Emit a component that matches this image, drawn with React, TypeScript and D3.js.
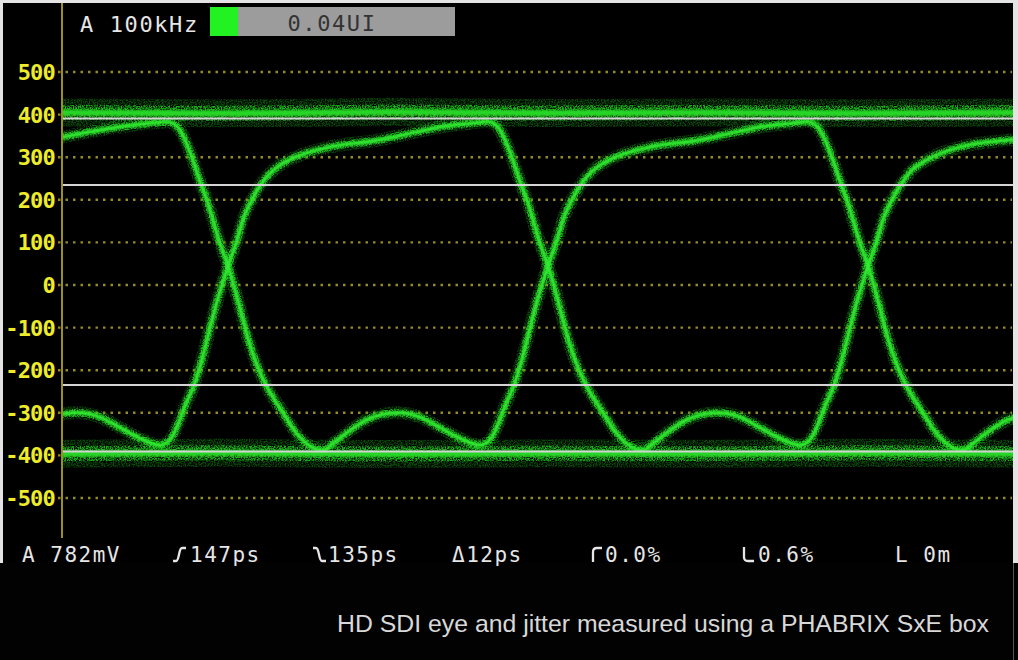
import { useEffect, useRef } from "react";
import * as d3 from "d3";

const W = 1018;
const H = 660;

// y axis in mV
const yTicks = [500, 400, 300, 200, 100, 0, -100, -200, -300, -400, -500];
// white reference levels (amplitude 782 mV -> +/-391, plus the 60% marks)
const levelLines = [391, 235, -235, -391];

const headerChannel = "A 100kHz";
const jitterValue = "0.04UI";
const readouts = ["A 782mV", "147ps", "135ps", "Δ12ps", "0.0%", "0.6%", "L 0m"];
const caption = "HD SDI eye and jitter measured using a PHABRIX SxE box";

type Pt = [number, number]; // [time in UI, level in mV]

// steady "1" and "0" levels
const topBand: Pt[] = [
  [-0.02, 405], [0.5, 403], [1, 406], [1.5, 404], [2, 405], [2.5, 403], [2.98, 405],
];
const bottomBand: Pt[] = [
  [-0.02, -396], [0.5, -394], [1, -397], [1.5, -395], [2, -396], [2.5, -394], [2.98, -396],
];

// trace starting high on the left
const traceA: Pt[] = [
  [-0.02, 347], [0.05, 357], [0.125, 367], [0.2, 375], [0.27, 381], [0.31, 383],
  [0.344, 370], [0.366, 340], [0.387, 300], [0.416, 236], [0.434, 200], [0.472, 105],
  [0.5, 45], [0.547, -82], [0.553, -100], [0.597, -200], [0.619, -235], [0.672, -300],
  [0.716, -350], [0.75, -375], [0.797, -388], [0.828, -372], [0.875, -345], [0.938, -315],
  [1.028, -300], [1.1, -310], [1.163, -335], [1.225, -360], [1.288, -376], [1.322, -360],
  [1.345, -325], [1.365, -285], [1.394, -235], [1.409, -200], [1.444, -100], [1.45, -82],
  [1.5, 45], [1.528, 105], [1.55, 160], [1.575, 200], [1.603, 236], [1.635, 265],
  [1.67, 285], [1.71, 300], [1.813, 323], [1.969, 340], [2.094, 360], [2.172, 372],
  [2.266, 380], [2.31, 384], [2.344, 370], [2.366, 340], [2.387, 300], [2.416, 236],
  [2.434, 200], [2.472, 105], [2.5, 45], [2.547, -82], [2.553, -100], [2.597, -200],
  [2.619, -235], [2.672, -300], [2.716, -350], [2.75, -375], [2.797, -388], [2.828, -372],
  [2.875, -345], [2.938, -316], [2.98, -308],
];

// trace starting low on the left
const traceB: Pt[] = [
  [-0.02, -303], [0.028, -300], [0.1, -310], [0.163, -335], [0.225, -360], [0.288, -376],
  [0.322, -360], [0.345, -325], [0.365, -285], [0.394, -235], [0.409, -200], [0.444, -100],
  [0.45, -82], [0.5, 45], [0.528, 105], [0.55, 160], [0.575, 200], [0.603, 236],
  [0.635, 265], [0.67, 285], [0.71, 300], [0.813, 323], [0.969, 340], [1.094, 360],
  [1.172, 372], [1.266, 380], [1.31, 384], [1.344, 370], [1.366, 340], [1.387, 300],
  [1.416, 236], [1.434, 200], [1.472, 105], [1.5, 45], [1.547, -82], [1.553, -100],
  [1.597, -200], [1.619, -235], [1.672, -300], [1.716, -350], [1.75, -375], [1.797, -388],
  [1.828, -372], [1.875, -345], [1.938, -315], [2.028, -300], [2.1, -310], [2.163, -335],
  [2.225, -360], [2.288, -376], [2.322, -360], [2.345, -325], [2.365, -285], [2.394, -235],
  [2.409, -200], [2.444, -100], [2.45, -82], [2.5, 45], [2.528, 105], [2.55, 160],
  [2.575, 200], [2.603, 236], [2.635, 268], [2.68, 292], [2.72, 307], [2.8, 326],
  [2.98, 342],
];

const MONO = "'DejaVu Sans Mono', monospace";

const EyeDiagram = () => {
  const ref = useRef<SVGSVGElement>(null);

  useEffect(() => {
    document.body.style.margin = "0";
    const svg = d3.select(ref.current);
    svg.selectAll("*").remove();

    const x = d3.scaleLinear().domain([0, 3]).range([68, 1028]);
    const y = d3.scaleLinear().domain([-500, 500]).range([498, 72]);

    const defs = svg.append("defs");
    defs
      .append("clipPath")
      .attr("id", "plot-clip")
      .append("rect")
      .attr("x", 63)
      .attr("y", 40)
      .attr("width", 950)
      .attr("height", 500);

    // grainy phosphor look
    const grain = defs
      .append("filter")
      .attr("id", "grain")
      .attr("filterUnits", "userSpaceOnUse")
      .attr("x", 0)
      .attr("y", 0)
      .attr("width", W)
      .attr("height", H);
    grain
      .append("feTurbulence")
      .attr("type", "fractalNoise")
      .attr("baseFrequency", 0.75)
      .attr("numOctaves", 2)
      .attr("seed", 4)
      .attr("result", "noise");
    grain
      .append("feColorMatrix")
      .attr("in", "noise")
      .attr("type", "matrix")
      .attr("values", "0 0 0 0 0  0 0 0 0 0  0 0 0 0 0  3.4 0 0 0 -1.2")
      .attr("result", "mask");
    grain
      .append("feComposite")
      .attr("in", "SourceGraphic")
      .attr("in2", "mask")
      .attr("operator", "in")
      .attr("result", "g");
    grain.append("feGaussianBlur").attr("in", "g").attr("stdDeviation", 0.6);

    const soft = defs
      .append("filter")
      .attr("id", "soft")
      .attr("filterUnits", "userSpaceOnUse")
      .attr("x", 0)
      .attr("y", 0)
      .attr("width", W)
      .attr("height", H);
    soft.append("feGaussianBlur").attr("stdDeviation", 1.1);

    // frame
    svg.append("rect").attr("width", W).attr("height", H).attr("fill", "#e4e4e4");
    svg.append("rect").attr("x", 3).attr("y", 3).attr("width", 1010).attr("height", 561).attr("fill", "#000");
    svg.append("rect").attr("x", 0).attr("y", 563).attr("width", W).attr("height", 97).attr("fill", "#020202");
    svg.append("line").attr("x1", 1013.5).attr("x2", 1013.5).attr("y1", 563).attr("y2", H).attr("stroke", "#555");

    // dotted grid
    svg
      .append("g")
      .selectAll("line")
      .data(yTicks)
      .enter()
      .append("line")
      .attr("x1", 58)
      .attr("x2", 1012)
      .attr("y1", (d) => y(d))
      .attr("y2", (d) => y(d))
      .attr("stroke", "#948a26")
      .attr("stroke-width", 2.4)
      .attr("stroke-dasharray", "2.5 5");

    // y axis line
    svg
      .append("line")
      .attr("x1", 62)
      .attr("x2", 62)
      .attr("y1", 3)
      .attr("y2", 538)
      .attr("stroke", "#9a9020")
      .attr("stroke-width", 2);

    // y labels
    svg
      .append("g")
      .selectAll("text")
      .data(yTicks)
      .enter()
      .append("text")
      .attr("x", 55)
      .attr("y", (d) => y(d) + 8)
      .attr("text-anchor", "end")
      .attr("font-family", MONO)
      .attr("font-weight", "bold")
      .attr("font-size", 22)
      .attr("letter-spacing", -0.8)
      .attr("fill", "#eeec2a")
      .text((d) => String(d));

    // eye traces
    const line = d3
      .line<Pt>()
      .x((d) => x(d[0]))
      .y((d) => y(d[1]))
      .curve(d3.curveMonotoneX);

    const eye = svg.append("g").attr("clip-path", "url(#plot-clip)");
    const layers = [
      { data: topBand, outer: 28, mid: 15, core: 6, coreColor: "#26d626" },
      { data: bottomBand, outer: 28, mid: 15, core: 6, coreColor: "#26d626" },
      { data: traceA, outer: 13, mid: 8, core: 4, coreColor: "#30ec30" },
      { data: traceB, outer: 13, mid: 8, core: 4, coreColor: "#30ec30" },
    ];
    // sparse outer speckle, denser inner speckle, then a soft bright core
    layers.forEach((l) => {
      eye
        .append("path")
        .datum(l.data)
        .attr("fill", "none")
        .attr("stroke", "#16a816")
        .attr("stroke-width", l.outer)
        .attr("stroke-linejoin", "round")
        .attr("opacity", 0.45)
        .attr("filter", "url(#grain)")
        .attr("d", line);
    });
    layers.forEach((l) => {
      eye
        .append("path")
        .datum(l.data)
        .attr("fill", "none")
        .attr("stroke", "#1cc81c")
        .attr("stroke-width", l.mid)
        .attr("stroke-linejoin", "round")
        .attr("opacity", 0.85)
        .attr("filter", "url(#grain)")
        .attr("d", line);
    });
    layers.forEach((l) => {
      eye
        .append("path")
        .datum(l.data)
        .attr("fill", "none")
        .attr("stroke", l.coreColor)
        .attr("stroke-width", l.core)
        .attr("stroke-linejoin", "round")
        .attr("filter", "url(#soft)")
        .attr("d", line);
    });

    // white reference levels
    svg
      .append("g")
      .selectAll("line")
      .data(levelLines)
      .enter()
      .append("line")
      .attr("x1", 63)
      .attr("x2", 1013)
      .attr("y1", (d) => y(d))
      .attr("y2", (d) => y(d))
      .attr("stroke", "#d4d4d4")
      .attr("stroke-width", 2);

    // header
    svg
      .append("text")
      .attr("x", 80)
      .attr("y", 32)
      .attr("font-family", MONO)
      .attr("font-size", 22)
      .attr("letter-spacing", 1.6)
      .attr("fill", "#e6e6e6")
      .text(headerChannel);
    svg.append("rect").attr("x", 210).attr("y", 7).attr("width", 28).attr("height", 29).attr("fill", "#22f222");
    svg.append("rect").attr("x", 238).attr("y", 7).attr("width", 217).attr("height", 29).attr("fill", "#9c9c9c");
    svg
      .append("text")
      .attr("x", 332)
      .attr("y", 31)
      .attr("text-anchor", "middle")
      .attr("font-family", MONO)
      .attr("font-size", 22)
      .attr("letter-spacing", 1.6)
      .attr("fill", "#333")
      .text(jitterValue);

    // bottom readouts
    const readoutX = [22, 190, 328, 452, 605, 758, 895];
    svg
      .append("g")
      .selectAll("text")
      .data(readouts)
      .enter()
      .append("text")
      .attr("x", (_, i) => readoutX[i])
      .attr("y", 562)
      .attr("font-family", MONO)
      .attr("font-size", 21)
      .attr("letter-spacing", 1.5)
      .attr("fill", "#e6e6e6")
      .text((d) => d);

    // edge / overshoot icons
    const icons = [
      "M173,561 H176 C179.5,561 178.5,548 182,548 H186",
      "M313,548 H316 C319.5,548 318.5,561 322,561 H326",
      "M593,562 V552 Q593,548 597,548 H602",
      "M744,547 V557 Q744,561 748,561 H754",
    ];
    svg
      .append("g")
      .selectAll("path")
      .data(icons)
      .enter()
      .append("path")
      .attr("d", (d) => d)
      .attr("fill", "none")
      .attr("stroke", "#e6e6e6")
      .attr("stroke-width", 2.3);

    // caption
    svg
      .append("text")
      .attr("x", 989)
      .attr("y", 632)
      .attr("text-anchor", "end")
      .attr("font-family", "'Liberation Sans', Arial, sans-serif")
      .attr("font-size", 24.8)
      .attr("fill", "#d8d8d8")
      .text(caption);
  }, []);

  return (
    <svg
      ref={ref}
      width={W}
      height={H}
      style={{ position: "absolute", left: 0, top: 0, display: "block" }}
    />
  );
};

export default function App() {
  return <EyeDiagram />;
}
